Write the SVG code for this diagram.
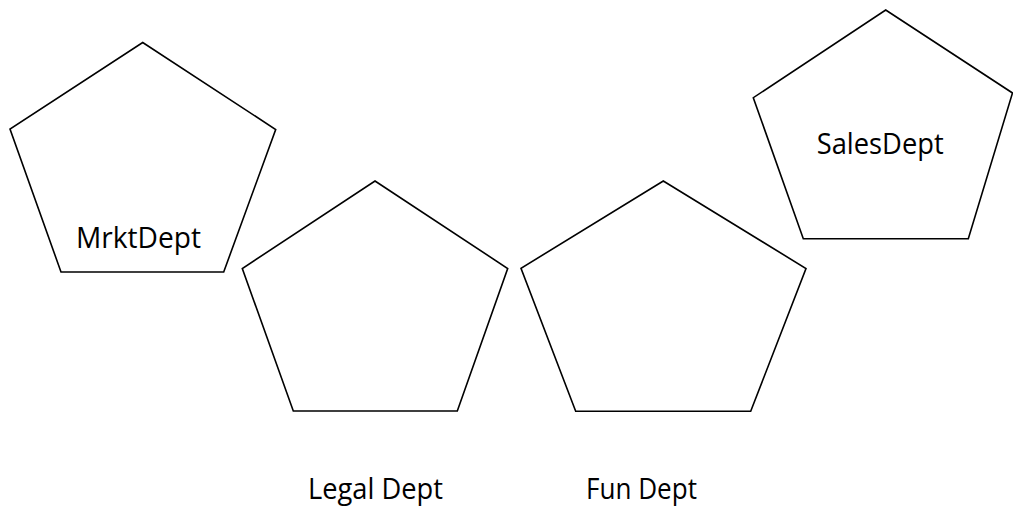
<svg xmlns="http://www.w3.org/2000/svg" width="1013" height="507" viewBox="0 0 1013 507">
<style>
.shape{fill:#fff;stroke:#000;stroke-width:1.6;stroke-linejoin:miter}
.lbl{font-family:"Open Sans","Liberation Sans",sans-serif;font-size:29px;fill:#000}
</style>
<rect width="1013" height="507" fill="#fff"/>
<g id="mrkt">
<polygon class="shape" points="142.7,42.5 275.7,129.5 223.7,272 61,272 10,129"/>
<text class="lbl" x="76" y="248" textLength="125" lengthAdjust="spacingAndGlyphs">MrktDept</text>
</g>
<g id="legal">
<polygon class="shape" points="375,181 507.7,268.5 457.3,411 293.3,411 242.3,268.5"/>
<text class="lbl" x="308" y="499" textLength="135" lengthAdjust="spacingAndGlyphs">Legal Dept</text>
</g>
<g id="fun">
<polygon class="shape" points="663.3,181 806,268.5 750.7,411.3 575.7,411.3 521,268.3"/>
<text class="lbl" x="586" y="499" textLength="111" lengthAdjust="spacingAndGlyphs">Fun Dept</text>
</g>
<g id="sales">
<polygon class="shape" points="885.7,10 1012.5,93 968.3,238.7 803.3,238.7 753.3,97.7"/>
<text class="lbl" x="816.7" y="154" textLength="127" lengthAdjust="spacingAndGlyphs">SalesDept</text>
</g>
<g id="connectors"></g>
</svg>
